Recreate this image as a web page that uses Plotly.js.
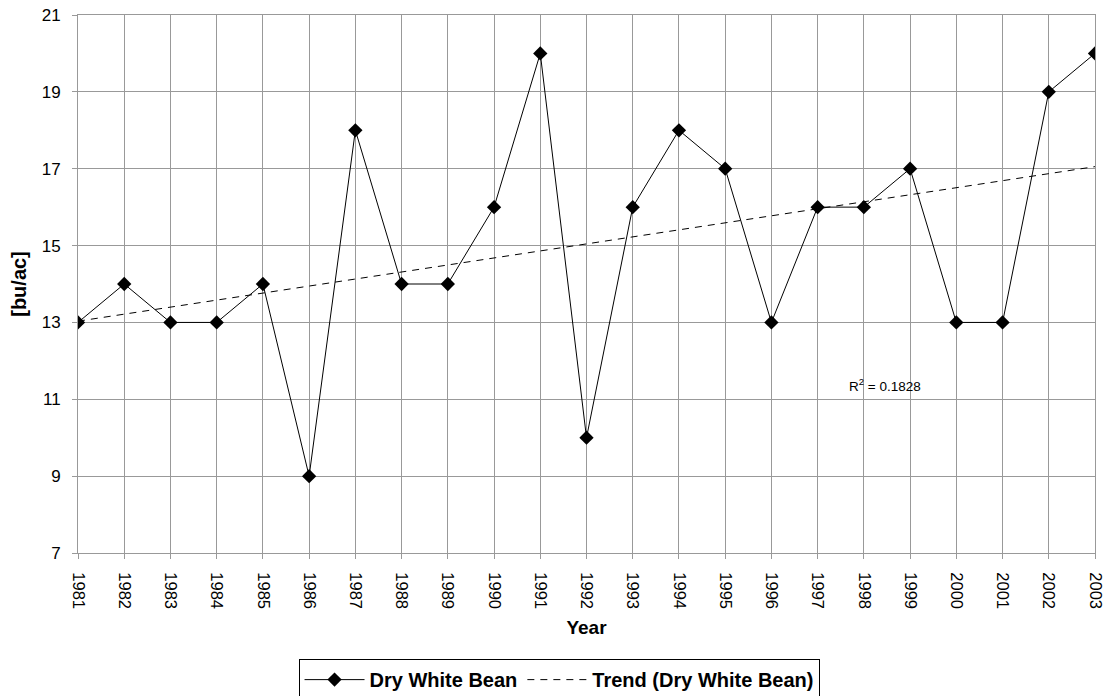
<!DOCTYPE html>
<html><head><meta charset="utf-8">
<script src="https://cdn.plot.ly/plotly-3.0.1.min.js"></script>
<style>body{margin:0;padding:0;background:#fff}#chart{width:1107px;height:696px}</style>
</head><body><div id="chart"></div>
<script>
const years = [1981,1982,1983,1984,1985,1986,1987,1988,1989,1990,1991,1992,1993,1994,1995,1996,1997,1998,1999,2000,2001,2002,2003];
const yieldVals = [13,14,13,13,14,9,18,14,14,16,20,10,16,18,17,13,16,16,17,13,13,19,20];
const yTicks = [7,9,11,13,15,17,19,21];
const seriesName = 'Dry White Bean';
const trendName = 'Trend (Dry White Bean)';
const r2Label = 'R<sup>2</sup> = 0.1828';

// linear least-squares trend computed from the series
const n = yieldVals.length;
const idx = years.map((_, i) => i);
const mx = idx.reduce((a, b) => a + b, 0) / n;
const my = yieldVals.reduce((a, b) => a + b, 0) / n;
let sxy = 0, sxx = 0;
idx.forEach((x, i) => { sxy += (x - mx) * (yieldVals[i] - my); sxx += (x - mx) * (x - mx); });
const slope = sxy / sxx, icpt = my - slope * mx;
const trendX = [years[0], years[n - 1]];
const trendY = [icpt, icpt + slope * (n - 1)];

const FONT = 'Liberation Sans, Arial, sans-serif';
const xcat = years.map(String);
const data = [
  {x: xcat, y: yieldVals, type: 'scatter', mode: 'lines+markers', name: seriesName,
   line: {color: '#000', width: 1}, marker: {symbol: 'diamond', size: 11, color: '#000'}},
  {x: [String(trendX[0]), String(trendX[1])], y: trendY, type: 'scatter', mode: 'lines', name: trendName,
   line: {color: '#000', width: 1, dash: '7px,6px'}}
];
const layout = {
  width: 1107, height: 696,
  margin: {l: 78, r: 12, t: 15, b: 143, autoexpand: false},
  paper_bgcolor: '#fff', plot_bgcolor: '#fff',
  font: {family: FONT, color: '#000', size: 16},
  showlegend: true,
  xaxis: {type: 'category', categoryorder: 'array', categoryarray: xcat, automargin: false,
    range: [0, n - 1], tickangle: 90, showgrid: true, gridcolor: '#999', gridwidth: 1,
    ticks: 'outside', ticklen: 5, tickcolor: '#999', showline: true, linecolor: '#999', mirror: true,
    zeroline: false, tickfont: {size: 16.5}, ticklabelstandoff: 10,
    title: {text: '<b>Year</b>', font: {size: 19}, standoff: 12}},
  yaxis: {range: [7, 21], tickvals: yTicks, showgrid: true, gridcolor: '#999', gridwidth: 1, automargin: false,
    ticks: 'outside', ticklen: 5, tickcolor: '#999', showline: true, linecolor: '#999', mirror: true,
    zeroline: false, tickfont: {size: 17}, ticklabelstandoff: 8,
    title: {text: '<b>[bu/ac]</b>', font: {size: 20}, standoff: 9}},
  legend: {orientation: 'h', xref: 'container', yref: 'container', x: 0.505, xanchor: 'center',
    y: 0.053, yanchor: 'top', itemwidth: 60,
    bordercolor: '#000', borderwidth: 1, traceorder: 'normal',
    font: {size: 20, family: FONT, weight: 'bold'}},
  annotations: [{x: 17.46, y: 11.37, xref: 'x', yref: 'y', text: r2Label, showarrow: false,
    xanchor: 'center', font: {size: 13.5, color: '#000'}}]
};
Plotly.newPlot('chart', data, layout, {displayModeBar: false, staticPlot: true});
</script></body></html>
